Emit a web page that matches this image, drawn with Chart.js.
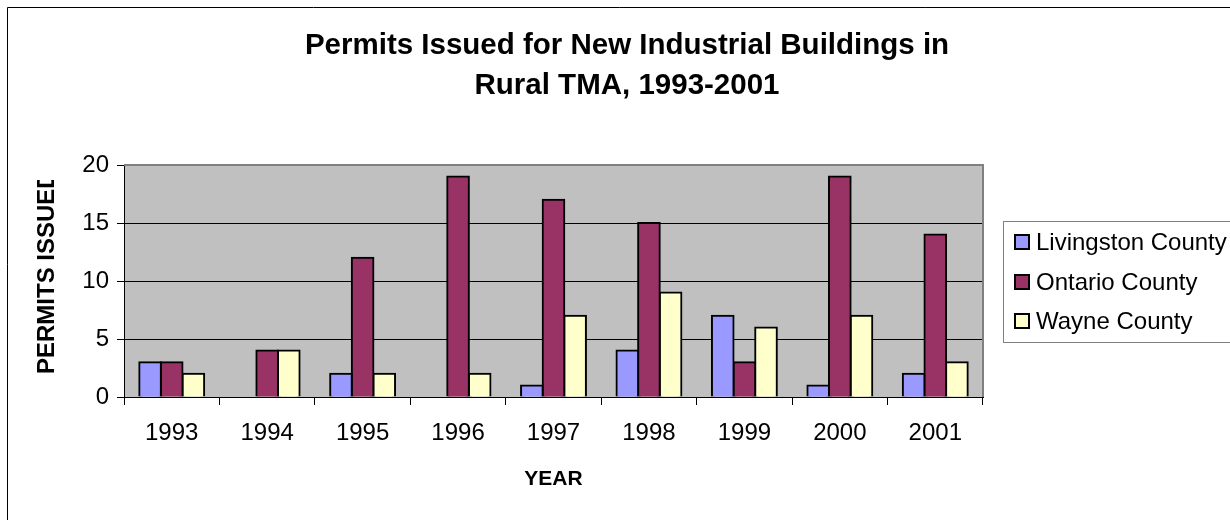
<!DOCTYPE html>
<html>
<head>
<meta charset="utf-8">
<script src="https://cdn.jsdelivr.net/npm/chart.js@4/dist/chart.umd.min.js"></script>
<style>
html,body{margin:0;padding:0;background:#fff;}
#wrap{position:relative;width:1230px;height:520px;}
</style>
</head>
<body>
<div id="wrap"><canvas id="c" width="1230" height="520"></canvas></div>
<script>
const years = ['1993','1994','1995','1996','1997','1998','1999','2000','2001'];
const livingston = [3, 0, 2, 0, 1, 4, 7, 1, 2];
const ontario = [3, 4, 12, 19, 17, 15, 3, 19, 14];
const wayne = [2, 4, 2, 2, 7, 9, 6, 7, 3];
const seriesNames = ['Livingston County', 'Ontario County', 'Wayne County'];
const seriesColors = ['#9999FF', '#993366', '#FFFFCC'];
const titleLines = ['Permits Issued for New Industrial Buildings in', 'Rural TMA, 1993-2001'];
const yTitle = 'PERMITS ISSUED';
const xTitle = 'YEAR';

const FONT = '"Liberation Sans", Arial, sans-serif';

const decor = {
  id: 'decor',
  beforeDraw(chart) {
    const ctx = chart.ctx, a = chart.chartArea;
    ctx.save();
    ctx.fillStyle = '#fff';
    ctx.fillRect(0, 0, chart.width, chart.height);
    ctx.fillStyle = '#C0C0C0';
    ctx.fillRect(a.left, a.top, a.right - a.left, a.bottom - a.top);
    ctx.strokeStyle = '#000';
    ctx.lineWidth = 1;
    ctx.beginPath();
    ctx.moveTo(7.5, 600); ctx.lineTo(7.5, 7.5); ctx.lineTo(1300, 7.5);
    ctx.stroke();
    ctx.restore();
  },
  beforeDatasetsDraw(chart) {
    const ctx = chart.ctx, a = chart.chartArea;
    ctx.save();
    ctx.strokeStyle = '#808080';
    ctx.lineWidth = 2;
    ctx.beginPath();
    ctx.moveTo(a.left, a.top); ctx.lineTo(a.right, a.top); ctx.lineTo(a.right, a.bottom);
    ctx.stroke();
    ctx.restore();
  },
  afterDraw(chart) {
    const ctx = chart.ctx, a = chart.chartArea;
    ctx.save();
    ctx.fillStyle = '#000';
    ctx.font = 'bold 29.5px ' + FONT;
    ctx.textAlign = 'center';
    ctx.textBaseline = 'middle';
    ctx.fillText(titleLines[0], 627, 46);
    ctx.fillText(titleLines[1], 627, 86);
    ctx.font = 'bold 21px ' + FONT;
    ctx.fillText(xTitle, (a.left + a.right) / 2, 479);
    ctx.save();
    ctx.beginPath();
    ctx.rect(0, 180, 120, 300);
    ctx.clip();
    ctx.translate(47, 374);
    ctx.rotate(-Math.PI / 2);
    ctx.font = 'bold 24px ' + FONT;
    ctx.textAlign = 'left';
    ctx.textBaseline = 'middle';
    ctx.fillText(yTitle, 0, 0);
    ctx.restore();
    ctx.strokeStyle = '#808080';
    ctx.lineWidth = 1;
    ctx.strokeRect(1003.5, 221.5, 400, 121);
    ctx.font = '24px ' + FONT;
    ctx.textAlign = 'left';
    ctx.textBaseline = 'middle';
    const ys = [242, 282, 321];
    for (let i = 0; i < 3; i++) {
      ctx.fillStyle = seriesColors[i];
      ctx.fillRect(1015, ys[i] - 7, 14, 14);
      ctx.strokeStyle = '#000';
      ctx.lineWidth = 2;
      ctx.strokeRect(1015, ys[i] - 7, 14, 14);
      ctx.fillStyle = '#000';
      ctx.fillText(seriesNames[i], 1036, ys[i] + 1);
    }
    ctx.restore();
  }
};

new Chart(document.getElementById('c'), {
  type: 'bar',
  data: {
    labels: years,
    datasets: [
      { label: seriesNames[0], data: livingston, backgroundColor: seriesColors[0], borderColor: '#000', borderWidth: 2 },
      { label: seriesNames[1], data: ontario, backgroundColor: seriesColors[1], borderColor: '#000', borderWidth: 2 },
      { label: seriesNames[2], data: wayne, backgroundColor: seriesColors[2], borderColor: '#000', borderWidth: 2 }
    ]
  },
  options: {
    responsive: false,
    animation: false,
    devicePixelRatio: 1,
    layout: { padding: { top: 165, right: 247, left: 0, bottom: 0 } },
    datasets: { bar: { categoryPercentage: 0.68, barPercentage: 1.0, inflateAmount: 1 } },
    plugins: { legend: { display: false }, title: { display: false }, tooltip: { enabled: false } },
    scales: {
      x: {
        grid: { offset: true, drawOnChartArea: false, color: '#000', tickLength: 8, lineWidth: 1 },
        border: { display: true, color: '#000', width: 1 },
        ticks: { color: '#000', font: { family: FONT, size: 24 }, padding: 14, maxRotation: 0 },
        afterFit(s) { s.height = 123; }
      },
      y: {
        min: 0, max: 20,
        ticks: { stepSize: 5, color: '#000', font: { family: FONT, size: 24 }, padding: 8 },
        grid: { color: (c) => (c.tick && (c.tick.value === 20)) ? 'rgba(0,0,0,0)' : '#000', tickLength: 7, lineWidth: 1, tickColor: '#000' },
        border: { display: true, color: '#000', width: 1 },
        afterFit(s) { s.width = 124; }
      }
    }
  },
  plugins: [decor]
});
</script>
</body>
</html>
